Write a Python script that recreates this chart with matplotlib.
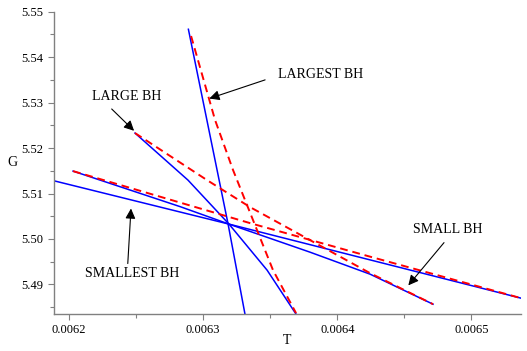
import matplotlib
matplotlib.use('Agg')
import matplotlib.pyplot as plt
from matplotlib.ticker import MultipleLocator

# exact curves (blue, solid)
smallest_T = [0.0061888, 0.0063193, 0.0065371]
smallest_G = [5.5128, 5.50327, 5.48698]
small_T = [0.0062030, 0.0062828, 0.0063193, 0.0063797, 0.0064245, 0.0064714]
small_G = [5.51493, 5.50712, 5.50327, 5.4971, 5.49226, 5.48566]
large_T = [0.0062492, 0.0062887, 0.0063193, 0.0063477, 0.0063693]
large_G = [5.5233, 5.51295, 5.50327, 5.49314, 5.48346]
largest_T = [0.0062890, 0.0063186, 0.0063312]
largest_G = [5.54613, 5.50327, 5.48346]

# approximate curves (red, dashed)
approxA_T = [0.0062030, 0.0062753, 0.0063350, 0.0064245, 0.0065371]
approxA_G = [5.51493, 5.50866, 5.50349, 5.49611, 5.48698]
approxB_T = [0.0062492, 0.0063029, 0.0063350, 0.0064245, 0.0064714]
approxB_G = [5.5233, 5.51295, 5.50701, 5.49248, 5.48566]
approxC_T = [0.0062910, 0.0063089, 0.0063223, 0.0063521, 0.0063693]
approxC_G = [5.54465, 5.52616, 5.51516, 5.49314, 5.48368]

labels = ['LARGEST BH', 'LARGE BH', 'SMALL BH', 'SMALLEST BH']
label_xy = [(0.0063879, 5.5361), (0.0062433, 5.5314), (0.0064826, 5.5021), (0.0062470, 5.4923)]
arrow_xy = [(0.0063046, 5.5309), (0.0062485, 5.5238), (0.0064530, 5.4898), (0.0062462, 5.5067)]
arrow_from = [(0.0063462, 5.5350), (0.0062318, 5.5286), (0.0064796, 5.4992), (0.0062438, 5.4946)]

plt.rcParams['font.family'] = ['Liberation Serif', 'DejaVu Serif']

fig = plt.figure(figsize=(5.27, 3.51), dpi=100)
ax = fig.add_axes([0.1025, 0.1054, 0.8861, 0.8613])

blue = '#0000ff'
red = '#ff0000'
for t, g in [(smallest_T, smallest_G), (small_T, small_G), (large_T, large_G), (largest_T, largest_G)]:
    ax.plot(t, g, color=blue, linewidth=1.1)
for t, g in [(approxA_T, approxA_G), (approxB_T, approxB_G), (approxC_T, approxC_G)]:
    ax.plot(t, g, color=red, linewidth=1.4, linestyle=(0, (4, 2.5)))

for lab, txy, axy, fxy in zip(labels, label_xy, arrow_xy, arrow_from):
    ax.text(txy[0], txy[1], lab, fontsize=10, ha='center', va='center')
    ax.annotate('', xy=axy, xytext=fxy,
                arrowprops=dict(arrowstyle='-|>', color='#555555', lw=0.8,
                                mutation_scale=15, shrinkA=0, shrinkB=0,
                                fc='black', ec='black'))

ax.set_xlim(0.0061888, 0.006537)
ax.set_ylim(5.4835, 5.55)
ax.set_xticks([0.0062, 0.0063, 0.0064, 0.0065])
ax.set_xticklabels(['0.0062', '0.0063', '0.0064', '0.0065'])
ax.set_yticks([5.49, 5.50, 5.51, 5.52, 5.53, 5.54, 5.55])
ax.set_yticklabels(['5.49', '5.50', '5.51', '5.52', '5.53', '5.54', '5.55'])
ax.xaxis.set_minor_locator(MultipleLocator(0.00005))
ax.yaxis.set_minor_locator(MultipleLocator(0.005))

for s in ['top', 'right']:
    ax.spines[s].set_visible(False)
for s in ['left', 'bottom']:
    ax.spines[s].set_color('#808080')
    ax.spines[s].set_linewidth(1.0)
ax.tick_params(which='major', direction='out', length=4.5, width=0.8, color='#808080', labelsize=9, pad=3)
ax.tick_params(which='minor', direction='out', length=3, width=0.8, color='#808080')

fig.text(12 / 527, 1 - 163 / 351, 'G', fontsize=10, ha='center', va='center')
fig.text(287 / 527, 1 - 340 / 351, 'T', fontsize=10, ha='center', va='center')

fig.savefig('out.png', dpi=100)
